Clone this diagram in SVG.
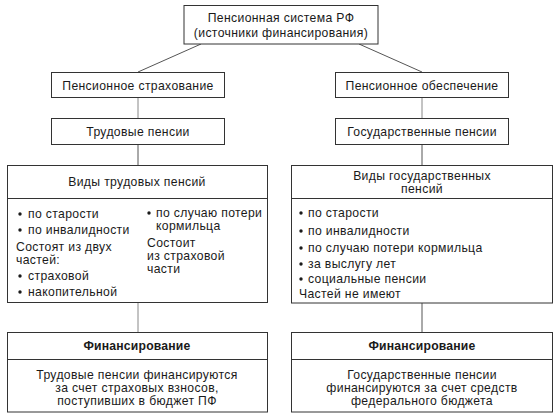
<svg xmlns="http://www.w3.org/2000/svg" width="556" height="420" viewBox="0 0 556 420">
<style>
rect{fill:#fff;stroke:#333;stroke-width:1}
.d{stroke:#333;stroke-width:1}
text{font-family:"Liberation Sans",Arial,sans-serif;font-size:12.2px;letter-spacing:0.35px;fill:#1a1a1a}
.c{text-anchor:middle}
.b{font-weight:bold;letter-spacing:0.2px}
.bl{fill:#1a1a1a}
#connectors line{stroke:#555;stroke-width:1}
</style>
<rect x="0" y="0" width="556" height="420" style="stroke:none"/>
<g id="connectors">
<line x1="201" y1="44" x2="138" y2="72"/>
<line x1="359" y1="44" x2="422" y2="72"/>
<line x1="138" y1="98" x2="138" y2="118" style="stroke:#888"/>
<line x1="422" y1="98" x2="422" y2="118" style="stroke:#888"/>
<line x1="138" y1="144" x2="138" y2="165"/>
<line x1="422" y1="144" x2="422" y2="165"/>
<line x1="138" y1="302" x2="138" y2="332" style="stroke:#888"/>
<line x1="422" y1="303" x2="422" y2="332"/>
</g>
<g id="root">
<rect x="184" y="5.5" width="194" height="38.5"/>
<text class="c" x="281" y="22">Пенсионная система РФ</text>
<text class="c" x="281" y="37">(источники финансирования)</text>
</g>
<g id="strakh">
<rect x="51.5" y="72.5" width="173" height="25"/>
<text class="c" x="138" y="89.5">Пенсионное страхование</text>
</g>
<g id="obesp">
<rect x="335.5" y="72.5" width="173" height="25"/>
<text class="c" x="422" y="89.5">Пенсионное обеспечение</text>
</g>
<g id="trud">
<rect x="51.5" y="118.5" width="173" height="26"/>
<text class="c" x="138" y="135.5">Трудовые пенсии</text>
</g>
<g id="gos">
<rect x="335.5" y="118.5" width="173" height="26"/>
<text class="c" x="422" y="135.5">Государственные пенсии</text>
</g>
<g id="vidy-trud">
<rect x="7.5" y="165.5" width="260" height="137"/>
<line class="d" x1="7.5" y1="198.5" x2="267.5" y2="198.5"/>
<text class="c" x="137" y="186">Виды трудовых пенсий</text>
<circle class="bl" cx="20" cy="214" r="1.7"/>
<text x="28" y="218">по старости</text>
<circle class="bl" cx="20" cy="230" r="1.7"/>
<text x="28" y="234">по инвалидности</text>
<text x="16" y="251">Состоят из двух</text>
<text x="16" y="264">частей:</text>
<circle class="bl" cx="20" cy="276" r="1.7"/>
<text x="28" y="280">страховой</text>
<circle class="bl" cx="20" cy="292" r="1.7"/>
<text x="28" y="296">накопительной</text>
<circle class="bl" cx="149" cy="213" r="1.7"/>
<text x="156" y="217">по случаю потери</text>
<text x="156" y="230">кормильца</text>
<text x="147" y="247">Состоит</text>
<text x="147" y="260">из страховой</text>
<text x="147" y="273">части</text>
</g>
<g id="vidy-gos">
<rect x="291.5" y="165.5" width="261" height="137.5"/>
<line class="d" x1="291.5" y1="198.5" x2="552.5" y2="198.5"/>
<text class="c" x="422" y="180">Виды государственных</text>
<text class="c" x="422" y="193">пенсий</text>
<circle class="bl" cx="301" cy="213" r="1.7"/>
<text x="308" y="217">по старости</text>
<circle class="bl" cx="301" cy="231" r="1.7"/>
<text x="308" y="235">по инвалидности</text>
<circle class="bl" cx="301" cy="248" r="1.7"/>
<text x="308" y="252">по случаю потери кормильца</text>
<circle class="bl" cx="301" cy="264" r="1.7"/>
<text x="308" y="268">за выслугу лет</text>
<circle class="bl" cx="301" cy="279" r="1.7"/>
<text x="308" y="283">социальные пенсии</text>
<text x="299" y="298">Частей не имеют</text>
</g>
<g id="fin-trud">
<rect x="7.5" y="332.5" width="260" height="79.5"/>
<line class="d" x1="7.5" y1="359.5" x2="267.5" y2="359.5"/>
<text class="c b" x="137" y="350">Финансирование</text>
<text class="c" x="137" y="379">Трудовые пенсии финансируются</text>
<text class="c" x="137" y="392">за счет страховых взносов,</text>
<text class="c" x="137" y="405">поступивших в бюджет ПФ</text>
</g>
<g id="fin-gos">
<rect x="291.5" y="332.5" width="261" height="79.5"/>
<line class="d" x1="291.5" y1="359.5" x2="552.5" y2="359.5"/>
<text class="c b" x="422" y="350">Финансирование</text>
<text class="c" x="422" y="379">Государственные пенсии</text>
<text class="c" x="422" y="392">финансируются за счет средств</text>
<text class="c" x="422" y="405">федерального бюджета</text>
</g>
</svg>
